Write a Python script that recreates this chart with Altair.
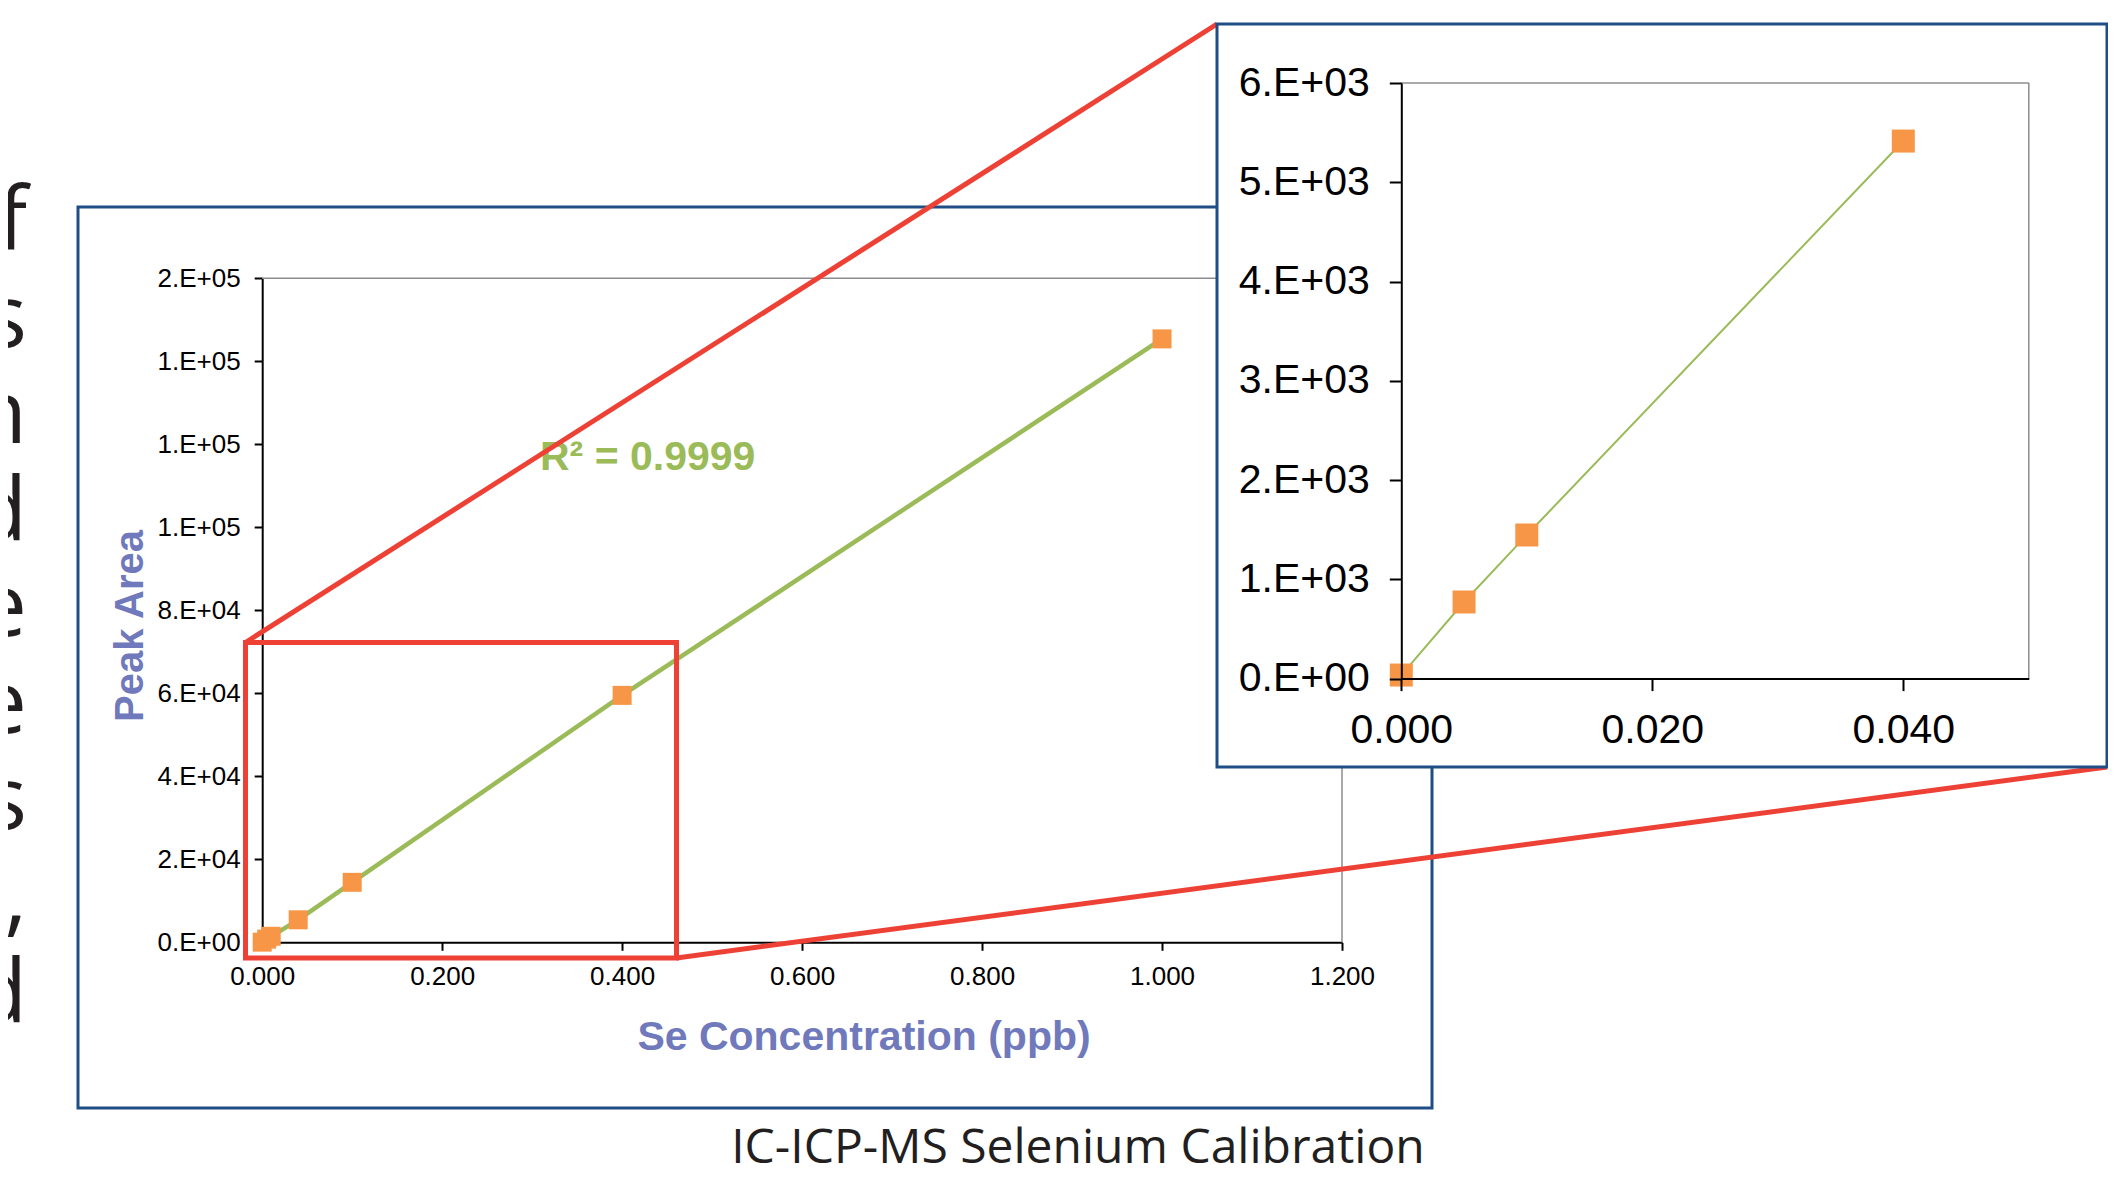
import altair as alt
import pandas as pd

# ---------------- data ----------------
conc = [0.0, 0.005, 0.01, 0.04, 0.1, 0.4, 1.0]
peak_area = [36, 772, 1447, 5416, 14450, 59500, 145400]

main_x_domain = [0.0, 1.2]
main_y_domain = [0, 160000]
inset_x_domain = [0.0, 0.05]
inset_y_domain = [0, 6000]

main_x_ticks = [0.0, 0.2, 0.4, 0.6, 0.8, 1.0, 1.2]
main_y_ticks = [0, 20000, 40000, 60000, 80000, 100000, 120000, 140000, 160000]
inset_x_ticks = [0.0, 0.02, 0.04]
inset_y_ticks = [0, 1000, 2000, 3000, 4000, 5000, 6000]

x_title = "Se Concentration (ppb)"
y_title = "Peak Area"
r2_text = "R² = 0.9999"
caption_text = "IC-ICP-MS Selenium Calibration"
margin_letters = ["f", "s", "n", "d", "e", "e", "s", "r,", "d"]

df = pd.DataFrame({"conc": conc, "area": peak_area})
inset_df = df[df["conc"] <= inset_x_domain[1]].reset_index(drop=True)
ONE = pd.DataFrame({"k": [0]})

# ---------------- style ----------------
GREEN = "#9BBB59"
ORANGE = "#F79646"
BLUE = "#1F4E86"
RED = "#EE4136"
GRAY = "#8C8C8C"
TITLE_BLUE = "#7079BC"
INK = "#231F20"
ARIAL = "Liberation Sans"
MYRIAD = "Open Sans"

W, H = 2100, 1162
# plot areas (view pixel coordinates)
MX0, MX1 = 254.2, 1334.0
MY0, MY1 = 934.3, 270.3
IX0, IX1 = 1393.3, 2020.8
IY0, IY1 = 670.6, 75.1

ylab = "replace(format(datum.value, '.0e'), 'e+', '.E+0')"


def axis(orient, offset, values, fs, tick, pad, z, fmt=None, expr=None):
    kw = dict(orient=orient, offset=offset, values=values, title=None, grid=False,
              domainColor="black", domainWidth=2, tickColor="black", tickWidth=2,
              tickSize=tick, labelFont=ARIAL, labelFontSize=fs, labelColor="black",
              labelPadding=pad, labelFlush=False, labelOverlap=False, zindex=z)
    if fmt:
        kw["format"] = fmt
    if expr:
        kw["labelExpr"] = expr
    return alt.Axis(**kw)


def box(x, x2, y, y2, stroke, sw, fill=None):
    if fill:
        m = alt.Chart(ONE).mark_rect(fill=fill, stroke=stroke, strokeWidth=sw)
    else:
        m = alt.Chart(ONE).mark_rect(fillOpacity=0, stroke=stroke, strokeWidth=sw)
    return m.encode(x=alt.value(x), x2=alt.value(x2), y=alt.value(y), y2=alt.value(y2))


def seg(x, y, x2, y2, color, sw):
    return alt.Chart(ONE).mark_rule(color=color, strokeWidth=sw).encode(
        x=alt.value(x), y=alt.value(y), x2=alt.value(x2), y2=alt.value(y2))


def label(txt, x, y, size, color, font=ARIAL, weight="normal", align="center", angle=0):
    return alt.Chart(ONE).mark_text(text=txt, font=font, fontSize=size, fontWeight=weight,
                                    color=color, align=align, baseline="alphabetic",
                                    angle=angle).encode(x=alt.value(x), y=alt.value(y))


# ---------------- decorations below ----------------
main_frame = box(70, 1424, 199, 1100, BLUE, 3)
main_top = seg(MX0, MY1, MX1, MY1, GRAY, 1.5)
main_right = seg(MX1, MY1, MX1, MY0, GRAY, 1.5)

texts = [
    label(x_title, 856, 1042, 41, TITLE_BLUE, weight="bold"),
    label(y_title, 135, 618, 40, TITLE_BLUE, weight="bold", angle=270),
    label(r2_text, 532, 462, 41, GREEN, weight="bold", align="left"),
    label(caption_text, 1070, 1155, 48, INK, font=MYRIAD),
]
# cropped fragments of the neighbouring paragraph (left page edge)
for i, ch in enumerate(margin_letters):
    texts.append(label(ch, 19, 242 + i * 96.5, 88, INK, font=MYRIAD, align="right"))

# ---------------- main chart ----------------
xs_main = alt.Scale(domain=main_x_domain, range=[MX0, MX1], nice=False, zero=False)
ys_main = alt.Scale(domain=main_y_domain, range=[MY0, MY1], nice=False)
ax_main_x = axis("bottom", MY0 - H, main_x_ticks, 26, 8, 13, 0, fmt=".3f")
ax_main_y = axis("left", -MX0, main_y_ticks, 26, 8, 14, 0, expr=ylab)

main_base = alt.Chart(df).encode(
    x=alt.X("conc:Q", scale=xs_main, axis=ax_main_x),
    y=alt.Y("area:Q", scale=ys_main, axis=ax_main_y),
)
main = alt.layer(
    main_base.mark_line(color=GREEN, strokeWidth=4.5),
    main_base.mark_point(shape="square", filled=True, size=361, color=ORANGE, opacity=1, strokeWidth=0),
)

# ---------------- zoom indicators ----------------
zoom_rect = box(237.5, 668.5, 634.5, 950, RED, 5)
zoom_l1 = seg(237.5, 634.5, 1209, 16, RED, 5)
zoom_l2 = seg(668.5, 950, 2099, 759, RED, 5)

# ---------------- inset ----------------
inset_bg = box(1209, 2099, 16, 759, BLUE, 3, fill="white")
inset_top = seg(IX0, IY1, IX1, IY1, GRAY, 1.5)
inset_right = seg(IX1, IY1, IX1, IY0, GRAY, 1.5)

xs_in = alt.Scale(domain=inset_x_domain, range=[IX0, IX1], nice=False, zero=False)
ys_in = alt.Scale(domain=inset_y_domain, range=[IY0, IY1], nice=False)
ax_in_x = axis("bottom", IY0 - H, inset_x_ticks, 41, 12, 20, 1, fmt=".3f")
ax_in_y = axis("left", -IX0, inset_y_ticks, 41, 12, 20, 1, expr=ylab)

inset_base = alt.Chart(inset_df).encode(
    x=alt.X("conc:Q", scale=xs_in, axis=ax_in_x),
    y=alt.Y("area:Q", scale=ys_in, axis=ax_in_y),
)
inset = alt.layer(
    inset_base.mark_line(color=GREEN, strokeWidth=2),
    inset_base.mark_point(shape="square", filled=True, size=529, color=ORANGE, opacity=1, strokeWidth=0),
)

chart = alt.layer(
    main_frame, main_top, main_right, *texts,
    main,
    zoom_rect, zoom_l1, zoom_l2,
    inset_bg, inset_top, inset_right,
    inset,
).resolve_scale(x="independent", y="independent").properties(
    width=W, height=H, autosize=alt.AutoSizeParams(type="none"), padding=0,
    background="white",
).configure_view(stroke=None)

chart.save("out.html", embed_options={"renderer": "svg", "actions": False})
